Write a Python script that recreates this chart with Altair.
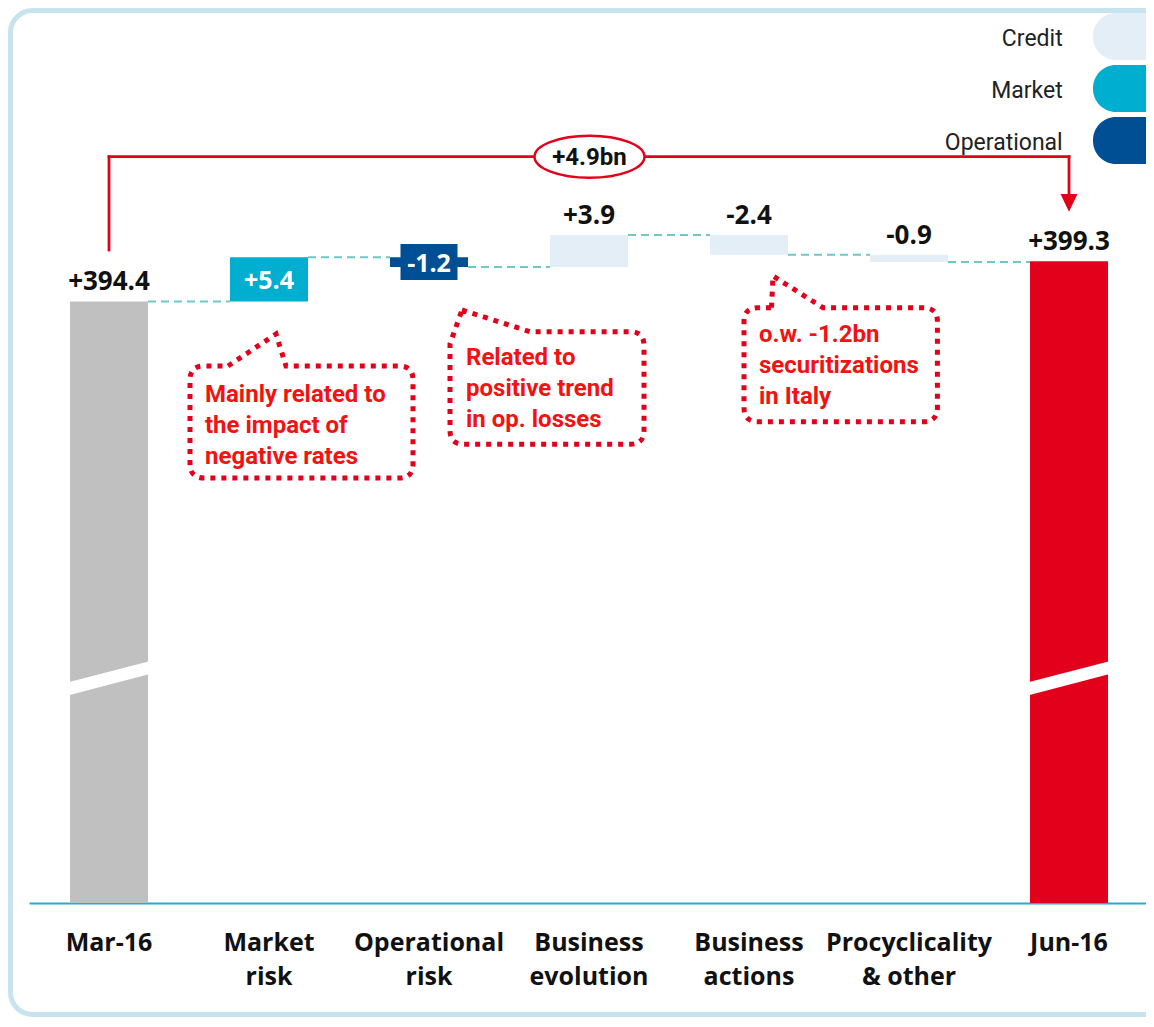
import altair as alt
import pandas as pd

# ---------------- data ----------------
categories = ["Mar-16", "Market risk", "Operational risk", "Business evolution",
              "Business actions", "Procyclicality & other", "Jun-16"]
start_total = 394.4
end_total = 399.3
deltas = [5.4, -1.2, 3.9, -2.4, -0.9]
delta_types = ["Market", "Operational", "Credit", "Credit", "Credit"]
value_labels = ["+394.4", "+5.4", "-1.2", "+3.9", "-2.4", "-0.9", "+399.3"]
legend_names = ["Credit", "Market", "Operational"]
legend_colors = ["#e3eef7", "#00aecf", "#004f95"]
total_colors = ["#c0c0c0", "#e2001a"]
change_label = "+4.9bn"
callout_texts = [
    ["Mainly related to", "the impact of", "negative rates"],
    ["Related to", "positive trend", "in op. losses"],
    ["o.w. -1.2bn", "securitizations", "in Italy"],
]

RED = "#e2001a"
TEXT_RED = "#f21212"
type_color = dict(zip(legend_names, legend_colors))

# ---------------- tables ----------------
rows = [dict(cat=categories[0], y0=0.0, y1=start_total, color=total_colors[0])]
running = start_total
for i, d in enumerate(deltas):
    new = round(running + d, 2)
    rows.append(dict(cat=categories[i + 1], y0=running, y1=new,
                     color=type_color[delta_types[i]]))
    running = new
rows.append(dict(cat=categories[-1], y0=0.0, y1=end_total, color=total_colors[1]))
bars = pd.DataFrame(rows)
bars["label"] = value_labels
bars["top"] = bars[["y0", "y1"]].max(axis=1)
bars["mid"] = (bars["y0"] + bars["y1"]) / 2

conn = pd.DataFrame({
    "cat": categories[:-1],
    "nxt": categories[1:],
    "level": list(bars["y1"][:-1]),
})

inside_cats = [categories[1], categories[2]]
above = bars[~bars["cat"].isin(inside_cats)]
inside = bars[bars["cat"].isin(inside_cats)]
opbox = bars[bars["cat"] == categories[2]]
totals = bars[bars["cat"].isin([categories[0], categories[-1]])]
ends = pd.DataFrame({"a": [categories[0]], "b": [categories[-1]]})

PLOT_W = 1120
xs = alt.Scale(domain=categories, paddingInner=0, paddingOuter=0, range=[0, PLOT_W])
ys = alt.Scale(domain=[321.04, 430.19], clamp=True, zero=False, nice=False)

label_expr = ("indexof(datum.value, ' ') < 0 ? datum.value : "
              "[substring(datum.value, 0, indexof(datum.value, ' ')), "
              "substring(datum.value, indexof(datum.value, ' ') + 1)]")
xaxis = alt.Axis(title=None, labelAngle=0, labelFont="Open Sans", labelFontSize=25,
                 labelFontWeight="bold", labelColor="#111111", labelLineHeight=34,
                 labelPadding=27, ticks=False, domainColor="#27aad5", domainWidth=2,
                 labelExpr=label_expr, labelLimit=400, grid=False)

def X(field):
    return alt.X(field, type="nominal", scale=xs, axis=xaxis)

def Y(field):
    return alt.Y(field, type="quantitative", scale=ys, axis=None)

one = pd.DataFrame({"k": [0]})
layers = []

# frame
layers.append(alt.Chart(one).mark_rect(fillOpacity=0, stroke="#c6e3ef", strokeWidth=5,
                                        cornerRadius=22).encode(
    x=alt.value(-18.5), x2=alt.value(1200), y=alt.value(2.5), y2=alt.value(1006.5)))

# legend
for i, (nm, col) in enumerate(zip(legend_names, legend_colors)):
    d = pd.DataFrame({"name": [nm]})
    layers.append(alt.Chart(d).mark_rect(color=col, cornerRadius=23).encode(
        x=alt.value(1064), x2=alt.value(1190),
        y=alt.value(5 + 52 * i), y2=alt.value(52 + 52 * i)))
    layers.append(alt.Chart(d).mark_text(align="right", baseline="middle", font="Roboto",
                                          fontSize=23, color="#222222").encode(
        x=alt.value(1033.7), y=alt.value(31 + 52 * i), text="name:N"))

# dashed connectors (from right edge of a bar to left edge of the next)
layers.append(alt.Chart(conn).mark_rule(color="#6fc7c9", strokeWidth=2,
                                        strokeDash=[8, 5], xOffset=39, x2Offset=-39).encode(
    x=X("cat"), x2=alt.X2("nxt"), y=Y("level")))

# bars
layers.append(alt.Chart(bars).mark_bar(size=78).encode(
    x=X("cat"), y=Y("y0"), y2=alt.Y2("y1"),
    color=alt.Color("color:N", scale=None)))

# axis breaks
layers.append(alt.Chart(totals).mark_rule(color="white", strokeWidth=12.6,
                                          xOffset=-41, x2Offset=41).encode(
    x=X("cat"), x2=alt.X2("cat"), y=alt.value(680.8), y2=alt.value(659.5)))

# operational label box
layers.append(alt.Chart(opbox).mark_point(
    shape="M-28.5,-18L28.5,-18L28.5,18L-28.5,18Z", size=4, filled=True,
    color=legend_colors[2], opacity=1).encode(x=X("cat"), y=Y("mid")))

# value labels
layers.append(alt.Chart(above).mark_text(font="Open Sans", fontWeight="bold", fontSize=26,
                                         baseline="middle", dy=-19, color="#111111").encode(
    x=X("cat"), y=Y("top"), text="label:N"))
layers.append(alt.Chart(inside).mark_text(font="Open Sans", fontWeight="bold", fontSize=25,
                                          baseline="middle", dy=1.5, color="white").encode(
    x=X("cat"), y=Y("mid"), text="label:N"))

# red overall-change connector
layers.append(alt.Chart(ends).mark_rule(color=RED, strokeWidth=2.8, strokeCap="square").encode(
    x=X("a"), y=alt.value(242), y2=alt.value(148.7)))
layers.append(alt.Chart(ends).mark_rule(color=RED, strokeWidth=2.8, strokeCap="square").encode(
    x=X("a"), x2=alt.X2("b"), y=alt.value(148.7)))
layers.append(alt.Chart(ends).mark_rule(color=RED, strokeWidth=2.8, strokeCap="square").encode(
    x=X("b"), y=alt.value(148.7), y2=alt.value(188)))
layers.append(alt.Chart(ends).mark_point(shape="M-8.5,-8.9L8.5,-8.9L0,8.9Z", size=4,
                                         filled=True, color=RED, opacity=1).encode(
    x=X("b"), y=alt.value(194.8)))
ellipse = ("M-55,0C-55,-11.6 -30.38,-21 0,-21C30.38,-21 55,-11.6 55,0"
           "C55,11.6 30.38,21 0,21C-30.38,21 -55,11.6 -55,0Z")
layers.append(alt.Chart(one).mark_point(shape=ellipse, size=4, filled=True, fill="white",
                                        stroke=RED, strokeWidth=2.5, opacity=1).encode(
    x=alt.value(560.5), y=alt.value(148.7)))
layers.append(alt.Chart(pd.DataFrame({"t": [change_label]})).mark_text(
    font="Roboto", fontWeight="bold", fontSize=24, baseline="middle", color="#111111").encode(
    x=alt.value(560.5), y=alt.value(150), text="t:N"))

# callouts
callout_paths = [
    "M-73.5,-56L-25.5,-88L-15.5,-56L97.5,-56Q111.5,-56 111.5,-42L111.5,42"
    "Q111.5,56 97.5,56L-97.5,56Q-111.5,56 -111.5,42L-111.5,-42Q-111.5,-56 -97.5,-56Z",
    "M-85,-78L-17,-56.3L83,-56.3Q97,-56.3 97,-42.3L97,42.3Q97,56.3 83,56.3"
    "L-83,56.3Q-97,56.3 -97,42.3L-97,-44Z",
    "M-69.2,-57L-67.7,-88.7L-17.7,-57L82.7,-57Q96.7,-57 96.7,-43L96.7,43"
    "Q96.7,57 82.7,57L-82.7,57Q-96.7,57 -96.7,43L-96.7,-43Q-96.7,-57 -82.7,-57Z",
]
callout_centers = [(272.5, 414), (518, 380), (811.7, 356.7)]
text_anchor = [(176, 394), (437, 357), (730, 333.7)]
for path, (cx, cy), (tx, ty), lines in zip(callout_paths, callout_centers, text_anchor,
                                            callout_texts):
    layers.append(alt.Chart(one).mark_point(shape=path, size=4, filled=False, stroke=RED,
                                            strokeWidth=5, strokeDash=[5, 6],
                                            opacity=1).encode(
        x=alt.value(cx), y=alt.value(cy)))
    layers.append(alt.Chart(one).mark_text(text=lines, align="left", baseline="alphabetic",
                                           font="Roboto", fontWeight="bold", fontSize=24,
                                           lineHeight=31, color=TEXT_RED).encode(
        x=alt.value(tx), y=alt.value(ty)))

chart = alt.layer(*layers).properties(
    width=1112, height=895,
    padding={"left": 21, "top": 0, "right": 5, "bottom": 114},
    autosize=alt.AutoSizeParams(type="none"),
).configure_view(strokeWidth=0)

chart.save("out.html", embed_options={"renderer": "svg", "actions": False})
